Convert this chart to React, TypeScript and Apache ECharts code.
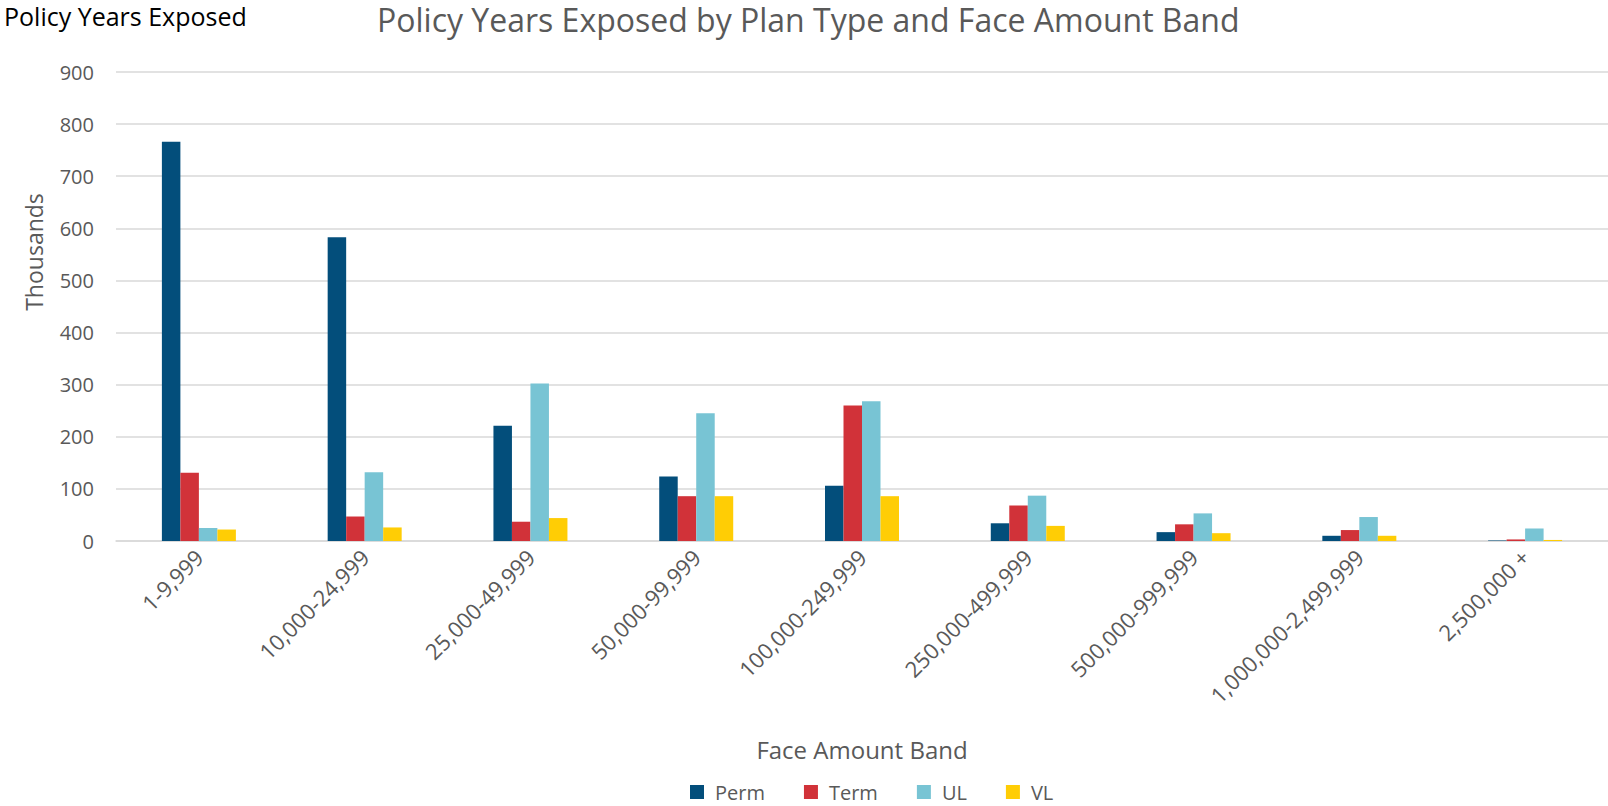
import React, { useEffect, useRef } from "react";
import * as echarts from "echarts";

const categories = [
  "1-9,999",
  "10,000-24,999",
  "25,000-49,999",
  "50,000-99,999",
  "100,000-249,999",
  "250,000-499,999",
  "500,000-999,999",
  "1,000,000-2,499,999",
  "2,500,000 +",
];
const perm = [766, 583, 221, 124, 106, 34, 17, 10, 1];
const term = [131, 47, 37, 86, 260, 68, 32, 21, 3];
const ul = [25, 132, 302, 245, 268, 87, 53, 46, 24];
const vl = [22, 26, 44, 86, 86, 29, 15, 10, 2];
const yTicks = { min: 0, max: 900, interval: 100 };

const FONT = "'Open Sans', 'Noto Sans', sans-serif";
const GREY = "#595959";

export default function App() {
  const ref = useRef<HTMLDivElement>(null);
  useEffect(() => {
    if (!ref.current) return;
    const chart = echarts.init(ref.current, undefined, { renderer: "svg" });
    const mk = (name: string, data: number[], color: string) => ({
      name,
      type: "bar",
      data,
      barWidth: 18.5,
      barGap: "0%",
      itemStyle: { color },
    });
    chart.setOption({
      animation: false,
      backgroundColor: "#ffffff",
      textStyle: { fontFamily: FONT },
      title: [
        {
          text: "Policy Years Exposed",
          left: 0,
          top: 3,
          padding: [0, 4, 0, 4],
          textStyle: { fontFamily: FONT, fontSize: 25, fontWeight: "normal", color: "#000000" },
        },
        {
          text: "Policy Years Exposed by Plan Type and Face Amount Band",
          left: 373,
          top: 3,
          padding: [0, 4, 0, 4],
          textStyle: { fontFamily: FONT, fontSize: 32, fontWeight: "normal", color: GREY },
        },
      ],
      graphic: [
        {
          type: "text",
          x: 34,
          y: 252,
          rotation: Math.PI / 2,
          style: {
            text: "Thousands",
            fontFamily: FONT,
            fontSize: 23,
            fill: GREY,
            align: "center",
            verticalAlign: "middle",
          },
        },
      ],
      legend: {
        bottom: -1,
        left: 685,
        itemWidth: 14,
        itemHeight: 14,
        itemGap: 39,
        icon: "rect",
        textStyle: { fontFamily: FONT, fontSize: 20, color: GREY, padding: [0, 0, 0, 6] },
        data: ["Perm", "Term", "UL", "VL"],
      },
      grid: { left: 116, right: 0, top: 72, bottom: 265, containLabel: false },
      xAxis: {
        type: "category",
        data: categories,
        name: "Face Amount Band",
        nameLocation: "middle",
        nameGap: 196,
        nameTextStyle: { fontFamily: FONT, fontSize: 24, color: GREY },
        axisLine: { lineStyle: { color: "#d9d9d9", width: 1.5 } },
        axisTick: { show: false },
        axisLabel: { rotate: 45, margin: 12, fontFamily: FONT, fontSize: 22, color: GREY, interval: 0 },
      },
      yAxis: {
        type: "value",
        min: yTicks.min,
        max: yTicks.max,
        interval: yTicks.interval,
        axisLine: { show: false },
        axisTick: { show: false },
        axisLabel: { margin: 22, fontFamily: FONT, fontSize: 20, color: GREY },
        splitLine: { lineStyle: { color: "#d9d9d9", width: 1.5 } },
      },
      series: [
        mk("Perm", perm, "#034e7b"),
        mk("Term", term, "#d13239"),
        mk("UL", ul, "#78c4d4"),
        mk("VL", vl, "#ffcd05"),
      ],
    });
    return () => chart.dispose();
  }, []);
  return (
    <div
      ref={ref}
      style={{ position: "fixed", left: 0, top: 0, width: 1608, height: 806, background: "#fff" }}
    />
  );
}
